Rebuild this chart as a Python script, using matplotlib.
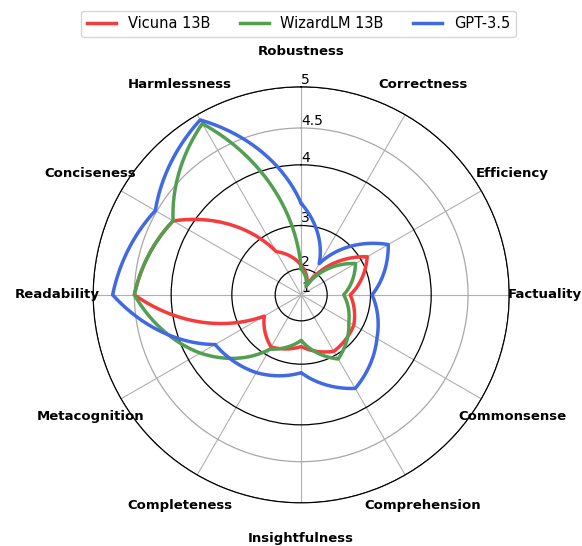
import numpy as np
import matplotlib
matplotlib.use("Agg")
import matplotlib.pyplot as plt

# ── Data ──────────────────────────────────────────────────────────────────────
categories = ["Robustness", "Correctness", "Efficiency", "Factuality",
              "Commonsense", "Comprehension", "Insightfulness", "Completeness",
              "Metacognition", "Readability", "Conciseness", "Harmlessness"]

vicuna    = [2.1, 1.5, 3.13, 2.58, 2.83, 2.92, 2.64, 2.82, 2.43, 4.5, 4.25, 2.6]
wizardlm  = [2.0, 1.45, 2.87, 2.43, 2.71, 3.09, 2.5, 2.87, 3.8, 4.5, 4.25, 4.88]
gpt35     = [3.4, 2.27, 3.55, 3.03, 3.33, 3.67, 3.16, 3.37, 3.53, 4.77, 4.52, 4.93]

series_names = ["Vicuna 13B", "WizardLM 13B", "GPT-3.5"]
r_ticks      = [1, 2, 3, 4, 4.5, 5]
r_tick_labels = ["1", "2", "3", "4", "4.5", "5"]

colors = ["#F53B3B", "#529F52", "#4169E1"]

# ── Figure ────────────────────────────────────────────────────────────────────
fig = plt.figure(figsize=(5.82, 5.46), dpi=100)
ax = fig.add_axes([0.160, 0.079, 0.715, 0.762], projection="polar")
ax.set_theta_zero_location("N")
ax.set_theta_direction(-1)

# radial axis is quadratic in the score
ax.set_rscale("function", functions=(lambda v: np.square(v),
                                     lambda v: np.sqrt(np.clip(v, 0, None))))
ax.set_rlim(1, 5)

angles = np.linspace(0, 2 * np.pi, len(categories), endpoint=False)
closed = np.append(angles, 2 * np.pi)   # close the loop going forward

for name, vals, c in zip(series_names, [vicuna, wizardlm, gpt35], colors):
    ln, = ax.plot(closed, np.append(vals, vals[0]), color=c, lw=2.5, label=name)
    # spiral segments between spokes (polar interpolation)
    ln.get_path()._interpolation_steps = 60

# ── Grid / ticks ──────────────────────────────────────────────────────────────
ax.set_xticks(angles)
ax.set_xticklabels(categories, fontsize=9.5, fontweight="bold")
ax.tick_params(axis="x", pad=15)
ax.xaxis.grid(True, color="#b0b0b0", lw=0.8)

ax.set_yticks(r_ticks)
ax.set_yticklabels(r_tick_labels, fontsize=10)
ax.set_rlabel_position(0)
ax.yaxis.grid(True, lw=0.9)
for t, gl in zip(r_ticks, ax.yaxis.get_gridlines()):
    gl.set_color("#a8a8a8" if t == 4.5 else "black")
ax.spines["polar"].set_color("black")

fig.legend(loc="upper center", bbox_to_anchor=(0.513, 0.994), ncol=3,
           fontsize=10.5, frameon=True)

fig.savefig("out.png", dpi=100)
